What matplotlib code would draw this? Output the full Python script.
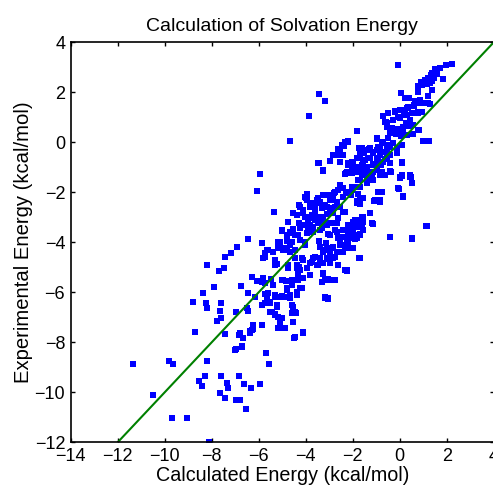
import numpy as np
import matplotlib
matplotlib.use('Agg')
import matplotlib.pyplot as plt

# calculated vs experimental solvation energies (kcal/mol)
calc_upper = [-3.43, -3.17, -3.87, -4.68, -2.21, -2.36, -2.53, -2.64, -2.97, -3.45, -2.53, -2.21, -3.28, -5.94, -2.30,
              -0.06, 2.21, 1.97, 1.71, 1.50, 1.39, 1.33, 1.57, 1.22, 1.47, 1.86, 1.08, 0.91, 1.39, 1.29, 1.15, 0.96,
              0.77, 1.39, 0.77, 0.06, 1.19, 0.23, 0.40, 0.86, 0.65, 0.96, 1.29, 0.62, 0.30, 0.06, -0.20, 0.77, 0.94,
              0.20, -0.70, -0.06, -0.30, -0.60, 0.26, 0.40, 0.51, -0.55, -0.06, 0.15, 0.82, -1.82, -0.37, -0.17, 0.58,
              0.06, 0.30, -0.95, -0.49, 1.00, 1.26, -0.70, -0.27, 0.09, -1.72, -1.29, -0.91, -0.55, -1.51, -1.12, -0.74,
              -0.10, -0.49, -1.69, -1.34, -0.94, -0.63, -2.04, 0.09, -1.55, -1.15, -0.78, -0.41, -1.90, -1.40, -0.98,
              -0.41, 0.09, 0.44, -1.69, -0.77]
expt_upper = [1.93, 1.66, 1.05, 0.06, 0.02, -0.14, -0.28, -0.52, -0.74, -0.83, -0.80, -0.91, -1.12, -1.28, -1.23,
              3.09, 3.13, 3.09, 2.96, 2.92, 2.78, 2.70, 2.72, 2.58, 2.58, 2.53, 2.49, 2.42, 2.46, 2.36, 2.32, 2.29,
              2.26, 2.09, 2.02, 1.96, 1.86, 1.78, 1.76, 1.69, 1.65, 1.56, 1.53, 1.45, 1.38, 1.29, 1.25, 1.20, 1.20,
              1.09, 1.05, 1.02, 0.89, 0.80, 0.76, 0.66, 0.69, 0.62, 0.53, 0.49, 0.49, 0.46, 0.36, 0.33, 0.32,
              0.26, 0.29, 0.13, 0.16, 0.05, 0.06, 0.00, -0.04, -0.11, -0.24, -0.28, -0.20, -0.11, -0.44, -0.40, -0.38,
              -0.44, -0.51, -0.58, -0.62, -0.64, -0.67, -0.78, -0.80, -0.84, -0.88, -0.91, -0.84, -0.98, -1.04, -1.11,
              -1.15, -1.31, -1.31, -1.20, -1.20]

calc_mid = [-2.04, -1.69, -1.40, -1.12, -0.77, -0.38, 0.01, 0.09, 0.47, 0.54, -1.76, -1.40, -1.69, -2.04, -0.02,
            -0.91, -0.77, 0.15, -2.07, -1.76, -1.55, -1.83, -1.69, -1.08, -0.84, -2.33, -1.27, -1.59, -1.90, -1.69,
            -1.55, -1.97, -1.76, -1.15, 1.12, -2.33, -2.19, -1.90, -1.69, -2.11, -1.90, -2.26, -2.33, -0.41, 0.54,
            -1.72, -2.26,
            -6.06, -2.54, -2.40, -2.30, -2.80, -3.96, -3.99, -3.46, -3.06, -2.89, -2.68, -3.60, -3.39, -3.18, -4.29,
            -2.54, -3.82, -2.97, -5.34, -4.55, -4.10, -3.60, -3.11, -2.83, -3.96, -3.46, -4.74, -4.27, -3.89, -3.25,
            -2.66, -3.70, -5.00, -4.54, -3.06, -2.75, -4.64, -4.31, -6.47, -5.87, -5.16, -4.81, -4.03, -3.43, -3.13,
            -2.54, -5.05, -4.67, -4.81, -5.59, -5.73, -6.91, -4.46, -3.18, -2.89, -2.68, -2.33, -7.19, -5.80, -5.31,
            -4.10, -3.68, -3.39, -3.04, -2.75, -7.43, -5.23, -4.74, -4.27, -3.82, -3.46, -8.19, -7.47, -7.68, -4.34,
            -3.25, -6.30, -6.06, -5.49, -5.02, -4.84, -4.31, -3.32, -3.04, -2.83, -7.90, -6.75, -5.73, -5.38, -4.81,
            -4.17, -8.36, -5.73, -5.31, -5.02, -4.67, -4.38, -3.18, -3.04, -8.24, -7.60, -5.87, -5.54, -5.21, -4.55,
            -6.51, -8.21]
expt_mid = [-1.24, -1.18, -1.24, -1.18, -1.27, -1.18, -1.40, -1.35, -1.38, -1.64, -1.51, -1.64, -1.78, -1.78, -1.87,
            -1.98, -1.99, -2.15, -2.11, -2.07, -2.24, -2.35, -2.48, -2.34, -2.38, -2.78, -2.84, -2.98, -3.11, -3.11,
            -3.18, -3.31, -3.38, -3.27, -3.34, -3.51, -3.71, -3.71, -3.68, -3.84, -3.88, -3.98, -4.11, -3.80, -3.88,
            -4.64, -5.15,
            -1.95, -1.71, -1.84, -1.98, -2.02, -2.07, -2.24, -2.24, -2.11, -2.31, -2.38, -2.44, -2.44, -2.51, -2.51,
            -2.58, -2.60, -2.64, -2.78, -2.82, -2.84, -2.84, -2.88, -2.82, -2.98, -3.04, -3.18, -3.22, -3.24, -3.22,
            -3.24, -3.40, -3.54, -3.48, -3.67, -3.51, -3.64, -3.71, -3.87, -4.04, -3.98, -3.94, -3.98, -3.94, -4.02,
            -3.98, -4.24, -4.11, -4.31, -4.31, -4.42, -4.20, -4.31, -4.31, -4.24, -4.38, -4.24, -4.44, -4.64, -4.71,
            -4.71, -4.64, -4.71, -4.68, -4.60, -4.60, -4.87, -4.91, -4.98, -4.84, -4.91, -4.91, -5.02, -5.14, -5.18,
            -5.27, -5.38, -5.55, -5.48, -5.51, -5.55, -5.51, -5.58, -5.48, -5.51, -5.78, -5.75, -5.64, -5.71, -5.84,
            -5.84, -6.04, -6.07, -6.18, -6.15, -6.22, -6.11, -6.22, -6.28, -6.44, -6.44, -6.51, -6.42, -6.58, -6.58,
            -6.64, -6.64]

calc_low = [-7.66, -6.97, -5.44, -5.30, -5.16, -5.11, -4.57, -4.43, -7.60, -7.79, -6.47, -4.55, -5.87, -6.26, -6.37,
            -6.26, -5.16, -4.92, -7.43, -6.82, -6.66, -4.10, -4.48, -6.70, -6.98, -5.71, -5.57, -8.19, -8.29, -8.43,
            -7.62, -6.84, -7.33, -7.29, -6.61, -6.34, -5.94, -7.66, -7.43, -6.98, -6.80, -6.55, -8.10,
            -8.71, -11.34, -9.82, -9.66, -8.54, -10.49, -9.68, -9.03, -8.79]
expt_low = [-6.75, -6.78, -6.78, -6.88, -6.98, -7.11, -6.82, -6.82, -7.04, -7.15, -6.75, -7.20, -7.31, -7.34, -7.55,
            -7.47, -7.42, -7.44, -7.68, -7.71, -7.84, -7.62, -7.82, -8.15, -8.28, -8.44, -8.88, -8.75, -9.35, -9.74,
            -9.34, -9.35, -9.64, -9.82, -9.68, -9.84, -9.67, -10.04, -10.22, -10.31, -10.31, -10.68, -11.98,
            -7.58, -8.88, -8.74, -8.87, -9.55, -10.11, -11.04, -11.04, -6.38]

# dense part of the cloud (around -5..-2 on both axes)
calc_core_a = [-1.97, -1.83, -1.69, -1.55, -2.19, -2.40, -2.68, -2.75, -3.11, -3.39, -3.53, -3.74, -3.89, -3.39,
               -2.97, -2.61, -2.33, -2.04, -1.69, -1.55, -1.83, -2.19, -2.54, -2.83, -3.11, -3.39, -3.25, -2.97,
               -2.68, -2.40, -2.19, -1.97, -2.83, -3.11, -3.39, -3.60, -3.74, -3.53, -3.25, -2.97, -2.61, -2.33,
               -1.69, -3.82, -4.10, -4.31, -4.24, -3.96, -4.38, -4.17, -4.46, -4.67, -4.81, -4.60, -4.81, -5.02,
               -4.67, -4.46, -4.24, -4.03, -5.09, -5.17, -4.95, -5.38, -5.66, -5.73, -5.31, -5.31, -4.74, -4.38,
               -4.95, -4.60, -4.60, -4.81, -4.38, -4.24, -4.67, -4.88, -5.31, -5.09, -5.59, -5.66, -5.73, -5.52,
               -5.23, -4.60, -4.46, -5.52, -5.31, -5.17, -5.02, -5.09, -4.88, -4.53, -4.10, -4.46, -5.87, -6.23,
               -6.30, -6.37, -6.80, -6.66, -7.01, -6.72, -5.87, -6.16, -6.44, -5.87, -5.80, -3.18, -2.97, -2.75,
               -3.18, -3.04, -3.32, -3.25, -2.26]
expt_core_a = [-3.18, -3.31, -3.11, -2.98, -3.31, -3.51, -3.58, -3.24, -3.31, -3.18, -2.98, -3.04, -3.38, -3.51,
               -3.71, -3.84, -3.78, -3.71, -3.71, -3.51, -3.84, -4.04, -4.11, -4.18, -4.24, -4.18, -4.38, -4.44,
               -4.38, -4.38, -4.24, -4.24, -4.64, -4.64, -4.64, -4.58, -4.78, -4.91, -4.84, -4.84, -4.91, -5.11,
               -4.62, -5.31, -5.44, -5.31, -5.11, -5.04, -4.91, -4.64, -4.64, -4.38, -4.24, -3.98, -3.71, -3.51,
               -3.58, -3.71, -3.91, -4.11, -3.98, -4.24, -4.31, -4.38, -4.31, -4.58, -4.78, -4.91, -5.04, -5.04,
               -5.51, -5.51, -5.71, -5.91, -5.98, -5.84, -6.11, -6.18, -6.11, -6.18, -6.04, -6.18, -6.44, -6.38,
               -6.51, -6.51, -6.78, -6.78, -6.91, -6.98, -7.04, -7.18, -7.44, -7.18, -7.58, -7.78, -7.31, -7.31,
               -7.51, -7.64, -7.64, -7.84, -8.31, -8.18, -6.51, -6.18, -6.04, -5.58, -5.44, -5.51, -5.51, -5.51,
               -6.18, -6.24, -5.58, -5.24, -5.11]

# dense part of the cloud (around -3..1 on both axes)
calc_core_b = [-2.33, -2.19, -2.47, -2.61, -2.40, -2.54, -2.83, -3.46, -3.28, -2.97, -2.19, -1.97, -1.83, -1.69,
               -1.62, -1.40, -1.26, -1.12, -0.98, -0.84, -0.70, -0.55, -0.41, -0.27, -0.13, -0.84, -0.98, -1.26,
               -1.48, -1.62, -1.83, -2.04, -2.26, -2.33, -1.83, -1.55, -1.40, -1.12, -0.91, -0.70, -0.55, -0.41,
               -1.62, -1.40, -1.69, -1.19, -1.12, -0.84, -0.63, -0.41, 0.09, 0.01, 0.44, 0.51, -0.06, 0.15,
               -0.91, -0.77, -1.05, -0.84, -1.69, -1.55, -1.83, -1.26, -1.62, -1.83, -1.62, -1.76, -1.97, -2.26,
               -2.40, -2.19, -1.97, -1.19, -0.41, 1.15, 0.51, -1.90, -2.04, -2.19, -2.40, -2.61, -2.75, -2.83,
               -2.97, -3.25, -3.39, -3.53, -3.60, -3.82, -4.03, -3.96, -4.10, -4.24, -4.38, -4.03, -3.74, -3.32,
               -3.11, -2.97, -3.25, -3.60, -3.82, -4.10, -4.24, -4.53, -4.38, -3.96, -3.68, -3.32, -3.46, -3.04,
               -2.83, -2.61, -2.40, -2.54, -2.75,
               -0.70, -0.49, -0.20, 0.01, 0.23, 0.37, 0.61, 0.86, 1.22, 0.79, 0.51, 0.30, 0.01, -0.27, -0.63,
               -0.55, -0.34, -0.41, -0.13, 0.01, 0.15, 0.30, 0.44, 0.58, 0.79, -0.98, -0.77, 1.00, 1.26]
expt_core_b = [0.03, 0.07, -0.11, -0.28, -0.51, -0.78, -0.51, -0.82, -1.14, -0.74, -0.84, -0.78, -0.64, -0.44,
               -0.24, -0.31, -0.24, -0.44, -0.31, -0.18, -0.04, -0.31, -0.18, -0.04, -0.24, -0.51, -0.64, -0.64,
               -0.71, -0.91, -0.98, -1.04, -1.18, -1.27, -1.18, -1.11, -0.98, -0.91, -0.84, -0.78, -0.64, -0.51,
               -1.31, -1.44, -1.51, -1.31, -1.51, -1.31, -1.31, -1.18, -0.82, -1.44, -1.38, -1.64, -1.84, -2.18,
               -1.98, -1.98, -2.31, -2.31, -2.24, -2.24, -2.44, -2.84, -2.98, -3.11, -3.31, -3.38, -3.44, -3.51,
               -3.78, -3.71, -3.64, -3.24, -3.78, -3.34, -3.84, -1.78, -1.91, -2.04, -2.18, -1.91, -1.98, -2.24,
               -2.31, -2.11, -2.38, -2.31, -2.58, -2.44, -2.18, -2.31, -2.71, -2.58, -2.91, -2.98, -2.91, -2.64,
               -2.58, -2.84, -2.98, -3.11, -3.31, -3.31, -3.44, -3.51, -3.71, -3.64, -3.58, -3.44, -3.24, -3.24,
               -3.24, -3.04, -2.78, -2.58, -2.58,
               1.05, 1.16, 1.22, 1.29, 1.29, 1.42, 1.49, 1.56, 1.56, 1.16, 1.16, 1.09, 0.96, 0.89, 0.82,
               0.76, 0.56, 0.36, 0.36, 0.49, 0.62, 0.76, 0.89, 0.69, 0.49, 0.16, 0.03, 0.07, 0.07]

calc = np.array(calc_upper + calc_mid + calc_low + calc_core_a + calc_core_b)
expt = np.array(expt_upper + expt_mid + expt_low + expt_core_a + expt_core_b)

xticks = [-14, -12, -10, -8, -6, -4, -2, 0, 2, 4]
yticks = [-12, -10, -8, -6, -4, -2, 0, 2, 4]

plt.rcParams['font.family'] = ['Liberation Sans', 'DejaVu Sans']

fig = plt.figure(figsize=(4.93, 4.86), dpi=100)
ax = fig.add_axes([0.1434, 0.0899, 0.858, 0.823])

ax.plot(calc, expt, 's', color='#0000ff', markersize=4.3, markeredgewidth=0)
ax.plot([-12, 4], [-12, 4], '-', color='#008000', linewidth=1.5)

ax.set_xlim(-14, 4)
ax.set_ylim(-12, 4)
ax.set_xticks(xticks)
ax.set_yticks(yticks)
ax.tick_params(direction='in', top=True, right=True, length=3, width=1, labelsize=13, pad=4)
for s in ax.spines.values():
    s.set_linewidth(1.2)

ax.set_title('Calculation of Solvation Energy', fontsize=14, pad=8)
ax.set_xlabel('Calculated Energy (kcal/mol)', fontsize=14.2, labelpad=1)
ax.set_ylabel('Experimental Energy (kcal/mol)', fontsize=14.6, labelpad=1)

fig.savefig('out.png', dpi=100)
